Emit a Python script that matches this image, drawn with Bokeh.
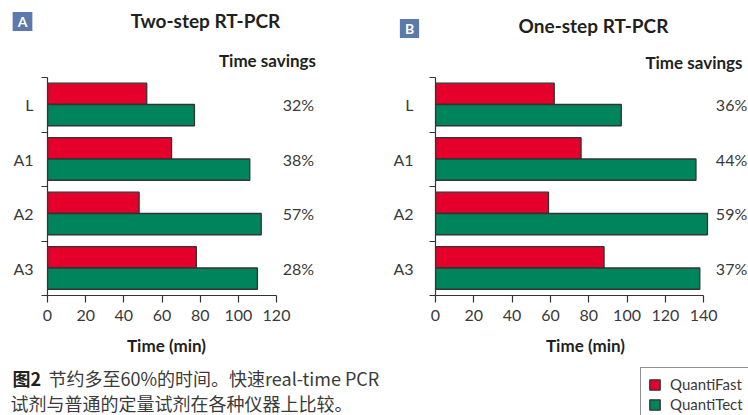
from bokeh.plotting import figure
from bokeh.models import Range1d, FixedTicker, ColumnDataSource, Legend, LegendItem
from bokeh.core.properties import value
from bokeh.transform import dodge
from bokeh.layouts import row, column
from bokeh.embed import file_html
from bokeh.resources import INLINE

# ---------------- data ----------------
categories = ["L", "A1", "A2", "A3"]
two_step_quantifast = [52, 65, 48, 78]
two_step_quantitect = [77, 106, 112, 110]
two_step_savings = ["32%", "38%", "57%", "28%"]
one_step_quantifast = [62, 76, 59, 88]
one_step_quantitect = [97, 136, 142, 138]
one_step_savings = ["36%", "44%", "59%", "37%"]
ticks_two_step = [0, 20, 40, 60, 80, 100, 120]
ticks_one_step = [0, 20, 40, 60, 80, 100, 120, 140]
series_names = ["QuantiFast", "QuantiTect"]
panel_titles = ["Two-step RT-PCR", "One-step RT-PCR"]
panel_letters = ["A", "B"]
savings_header = "Time savings"
x_title = "Time (min)"
caption_bold = "图2"
caption_line1 = "节约多至60%的时间。快速real-time PCR"
caption_line2 = "试剂与普通的定量试剂在各种仪器上比较。"

# ---------------- style / layout ----------------
RED = "#E4002B"
GREEN = "#00845C"
BOX = "#5B79AB"
INK = "#231f20"
GREY = "#3a3a3a"
EDGE = "#333333"
FONT = "Lato"
CJK = "Noto Sans CJK SC"
W = 748
HEAD_H = 76          # header strip height
MID_BOTTOM = 330     # page y where the caption strip starts
BAND = 54.5          # px per category band
AXIS_Y = 295         # page y of the x axis
BAR_H = 0.39


def make_panel(width, left, xmax, axis_px, ticks, fast, tect, savings, pct_px, ystand):
    n = len(categories)
    height = MID_BOTTOM - HEAD_H
    bottom_border = MID_BOTTOM - AXIS_Y
    frame_w = width - left
    frame_h = height - bottom_border
    x_end = xmax * frame_w / axis_px
    y_end = frame_h / BAND
    p = figure(width=width, height=height, x_range=Range1d(0, x_end),
               y_range=Range1d(0, y_end), output_backend="svg", toolbar_location=None,
               min_border_left=left, min_border_right=0, min_border_top=0,
               min_border_bottom=bottom_border)
    p.outline_line_color = None
    p.grid.visible = False

    ypos = [n - 0.5 - i for i in range(n)]
    src = ColumnDataSource(dict(cat=categories, y=ypos, fast=fast, tect=tect, sav=savings))
    p.hbar(y=dodge("y", 0.2), left=0, right="fast", height=BAR_H, source=src,
           fill_color=RED, line_color=EDGE, line_width=1.3)
    p.hbar(y=dodge("y", -0.19), left=0, right="tect", height=BAR_H, source=src,
           fill_color=GREEN, line_color=EDGE, line_width=1.3)
    p.text(x=pct_px * xmax / axis_px, y="y", text="sav", source=src,
           text_align="center", text_baseline="middle", text_font=value(FONT),
           text_font_size="16px", text_color=GREY)

    ya = p.yaxis[0]
    ya.bounds = (0, n)
    ya.ticker = FixedTicker(ticks=ypos, minor_ticks=list(range(n + 1)))
    ya.major_label_overrides = {y: c for y, c in zip(ypos, categories)}
    ya.major_tick_line_color = None
    ya.major_tick_out = 0
    ya.major_tick_in = 0
    ya.minor_tick_line_color = EDGE
    ya.minor_tick_out = 6
    ya.minor_tick_in = 0
    ya.minor_tick_line_width = 1.2
    ya.axis_line_color = EDGE
    ya.axis_line_width = 1.2
    ya.major_label_standoff = ystand
    ya.major_label_text_font = FONT
    ya.major_label_text_font_size = "16px"
    ya.major_label_text_color = GREY

    xa = p.xaxis[0]
    xa.bounds = (0, xmax)
    xa.ticker = FixedTicker(ticks=ticks)
    xa.major_tick_out = 7
    xa.major_tick_in = 0
    xa.major_tick_line_color = EDGE
    xa.major_tick_line_width = 1.2
    xa.minor_tick_line_color = None
    xa.axis_line_color = EDGE
    xa.axis_line_width = 1.2
    xa.major_label_standoff = 7
    xa.major_label_text_font = FONT
    xa.major_label_text_font_size = "16px"
    xa.major_label_text_color = GREY
    return p, src


def blank(width, height):
    p = figure(width=width, height=height, x_range=Range1d(0, width),
               y_range=Range1d(height, 0), x_axis_type=None, y_axis_type=None,
               output_backend="svg", toolbar_location=None,
               min_border=0, min_border_left=0, min_border_right=0,
               min_border_top=0, min_border_bottom=0)
    p.outline_line_color = None
    p.grid.visible = False
    return p


def txt(p, x, y, s, size, bold=False, color=INK, align="center", font=FONT, **kw):
    p.text(x=[x], y=[y], text=[s], text_font=value(font), text_font_size=size,
           text_font_style="bold" if bold else "normal", text_color=color,
           text_align=align, text_baseline="middle", **kw)


# ---------------- header strip ----------------
head = blank(W, HEAD_H)
box = dict(background_fill_color=BOX, padding=dict(left=5, right=5, top=1, bottom=1))
txt(head, 22, 21, panel_letters[0], "14px", bold=True, color="white", **box)
txt(head, 205, 20, panel_titles[0], "19px", bold=True)
txt(head, 267, 60, savings_header, "17px", bold=True)
txt(head, 409, 28, panel_letters[1], "14px", bold=True, color="white", **box)
txt(head, 593, 25, panel_titles[1], "19px", bold=True)
txt(head, 742, 62, savings_header, "17px", bold=True, align="right")

# ---------------- panels ----------------
WA = 390
pa, sa = make_panel(WA, 47, 120, 229, ticks_two_step, two_step_quantifast,
                    two_step_quantitect, two_step_savings, 298 - 47, 8)
pb, sb = make_panel(W - WA, 44, 140, 269, ticks_one_step, one_step_quantifast,
                    one_step_quantitect, one_step_savings, 731 - 434, 16)

# ---------------- caption strip (axis titles, caption, legend) ----------------
foot_h = 415 - MID_BOTTOM
foot = blank(W, foot_h)
txt(foot, 166, 15, x_title, "17px", bold=True)
txt(foot, 585, 15, x_title, "17px", bold=True)
txt(foot, 12, 47, caption_bold, "18px", bold=True, align="left", font=CJK)
txt(foot, 48, 47, caption_line1, "18px", align="left", font=CJK, color=GREY)
txt(foot, 10, 72, caption_line2, "18px", align="left", font=CJK, color=GREY)

# legend keys: the panel-B series (hidden here, drawn in panel B)
k_fast = foot.hbar(y="y", left=0, right="fast", height=BAR_H, source=sb,
                   fill_color=RED, line_color=EDGE, line_width=1.3, visible=False)
k_tect = foot.hbar(y="y", left=0, right="tect", height=BAR_H, source=sb,
                   fill_color=GREEN, line_color=EDGE, line_width=1.3, visible=False)
legend = Legend(items=[LegendItem(label=series_names[0], renderers=[k_fast]),
                       LegendItem(label=series_names[1], renderers=[k_tect])],
                location=(640, -6), orientation="vertical", margin=0, padding=7,
                spacing=2, glyph_width=13, glyph_height=13, label_standoff=9,
                label_height=13, border_line_color="#222222", border_line_width=1,
                background_fill_color="white", background_fill_alpha=1,
                inactive_fill_alpha=0, click_policy="none",
                label_text_font=FONT, label_text_font_size="15px", label_text_color=GREY)
foot.add_layout(legend)

page = column(head, row(pa, pb), foot)
open("out.html", "w").write(file_html(page, INLINE))
